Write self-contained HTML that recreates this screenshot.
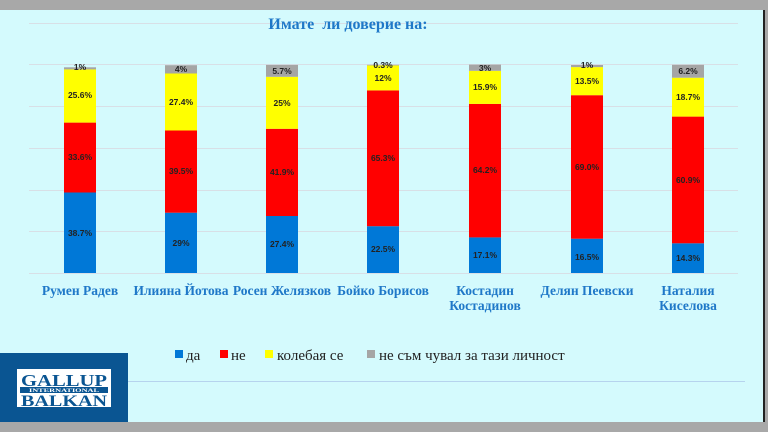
<!DOCTYPE html>
<html><head><meta charset="utf-8"><style>
html,body{margin:0;padding:0;width:768px;height:432px;overflow:hidden;background:#a8a8a8}
</style></head><body>
<svg width="768" height="432" xmlns="http://www.w3.org/2000/svg" style="display:block">
<rect x="0" y="0" width="768" height="432" fill="#a8a8a8"/>
<rect x="0" y="10" width="763" height="412" fill="#d4fafd"/>
<rect x="763" y="10" width="2" height="412" fill="#222"/>
<g stroke="#d8dfe6" stroke-width="1">
<line x1="29" y1="23.5" x2="738" y2="23.5"/>
<line x1="29" y1="64.5" x2="738" y2="64.5"/>
<line x1="29" y1="106.5" x2="738" y2="106.5"/>
<line x1="29" y1="148.5" x2="738" y2="148.5"/>
<line x1="29" y1="190.5" x2="738" y2="190.5"/>
<line x1="29" y1="231.5" x2="738" y2="231.5"/>
<line x1="29" y1="273.5" x2="738" y2="273.5"/>
</g>
<text x="348" y="29" text-anchor="middle" font-family="Liberation Serif, serif" font-weight="bold" font-size="16" fill="#1f78c8" xml:space="preserve">Имате  ли доверие на:</text>
<g>
<rect x="64" y="192.5" width="32" height="80.5" fill="#0078d7"/><rect x="64" y="122.6" width="32" height="69.9" fill="#ff0000"/><rect x="64" y="69.4" width="32" height="53.2" fill="#ffff00"/><rect x="64" y="67.3" width="32" height="2.1" fill="#a5a5a5"/>
<rect x="165" y="212.7" width="32" height="60.3" fill="#0078d7"/><rect x="165" y="130.5" width="32" height="82.2" fill="#ff0000"/><rect x="165" y="73.5" width="32" height="57" fill="#ffff00"/><rect x="165" y="65.2" width="32" height="8.3" fill="#a5a5a5"/>
<rect x="266" y="216" width="32" height="57" fill="#0078d7"/><rect x="266" y="128.8" width="32" height="87.2" fill="#ff0000"/><rect x="266" y="76.8" width="32" height="52" fill="#ffff00"/><rect x="266" y="64.9" width="32" height="11.9" fill="#a5a5a5"/>
<rect x="367" y="226.2" width="32" height="46.8" fill="#0078d7"/><rect x="367" y="90.4" width="32" height="135.8" fill="#ff0000"/><rect x="367" y="65.4" width="32" height="25" fill="#ffff00"/><rect x="367" y="64.8" width="32" height="0.6" fill="#a5a5a5"/>
<rect x="469" y="237.4" width="32" height="35.6" fill="#0078d7"/><rect x="469" y="103.9" width="32" height="133.5" fill="#ff0000"/><rect x="469" y="70.8" width="32" height="33.1" fill="#ffff00"/><rect x="469" y="64.6" width="32" height="6.2" fill="#a5a5a5"/>
<rect x="571" y="238.7" width="32" height="34.3" fill="#0078d7"/><rect x="571" y="95.2" width="32" height="143.5" fill="#ff0000"/><rect x="571" y="67.1" width="32" height="28.1" fill="#ffff00"/><rect x="571" y="65" width="32" height="2.1" fill="#a5a5a5"/>
<rect x="672" y="243.3" width="32" height="29.7" fill="#0078d7"/><rect x="672" y="116.6" width="32" height="126.7" fill="#ff0000"/><rect x="672" y="77.7" width="32" height="38.9" fill="#ffff00"/><rect x="672" y="64.8" width="32" height="12.9" fill="#a5a5a5"/>
</g>
<g font-family="Liberation Sans, sans-serif" font-weight="bold" font-size="8.5" fill="#222" text-anchor="middle">
<text x="80" y="236">38.7%</text><text x="80" y="160">33.6%</text><text x="80" y="98">25.6%</text><text x="80" y="70">1%</text>
<text x="181" y="246">29%</text><text x="181" y="174">39.5%</text><text x="181" y="105">27.4%</text><text x="181" y="72">4%</text>
<text x="282" y="247">27.4%</text><text x="282" y="175">41.9%</text><text x="282" y="106">25%</text><text x="282" y="74">5.7%</text>
<text x="383" y="252">22.5%</text><text x="383" y="161">65.3%</text><text x="383" y="81">12%</text><text x="383" y="68">0.3%</text>
<text x="485" y="258">17.1%</text><text x="485" y="173">64.2%</text><text x="485" y="90">15.9%</text><text x="485" y="71">3%</text>
<text x="587" y="260">16.5%</text><text x="587" y="170">69.0%</text><text x="587" y="84">13.5%</text><text x="587" y="68">1%</text>
<text x="688" y="261">14.3%</text><text x="688" y="183">60.9%</text><text x="688" y="100">18.7%</text><text x="688" y="74">6.2%</text>
</g>
<g font-family="Liberation Serif, serif" font-weight="bold" font-size="13.5" fill="#1f78c8" text-anchor="middle">
<text x="80" y="295">Румен Радев</text>
<text x="181" y="295">Илияна Йотова</text>
<text x="282" y="295">Росен Желязков</text>
<text x="383" y="295">Бойко Борисов</text>
<text x="485" y="295">Костадин</text><text x="485" y="310">Костадинов</text>
<text x="587" y="295">Делян Пеевски</text>
<text x="688" y="295">Наталия</text><text x="688" y="310">Киселова</text>
</g>
<g font-family="Liberation Serif, serif" font-size="15" fill="#222">
<rect x="175" y="350" width="8" height="8" fill="#0078d7"/><text x="186" y="360">да</text>
<rect x="220" y="350" width="8" height="8" fill="#ff0000"/><text x="231" y="360">не</text>
<rect x="265" y="350" width="8" height="8" fill="#ffff00"/><text x="277" y="360">колебая се</text>
<rect x="367" y="350" width="8" height="8" fill="#a5a5a5"/><text x="379" y="360">не съм чувал за тази личност</text>
</g>
<line x1="128" y1="381.5" x2="745" y2="381.5" stroke="#b6d3ee" stroke-width="1"/>
<rect x="0" y="353" width="128" height="69" fill="#0a5592"/>
<rect x="17" y="369" width="94" height="38" fill="#ffffff"/>
<g font-family="Liberation Serif, serif" font-weight="bold" fill="#0a5592" text-anchor="middle">
<text x="64" y="386" font-size="17" textLength="86" lengthAdjust="spacingAndGlyphs">GALLUP</text>
<rect x="20" y="387" width="88" height="6" fill="#0a5592"/>
<text x="64" y="392" font-size="5" fill="#fff" textLength="70" lengthAdjust="spacingAndGlyphs">INTERNATIONAL</text>
<text x="64" y="406" font-size="16" textLength="86" lengthAdjust="spacingAndGlyphs">BALKAN</text>
</g>
</svg>
</body></html>
